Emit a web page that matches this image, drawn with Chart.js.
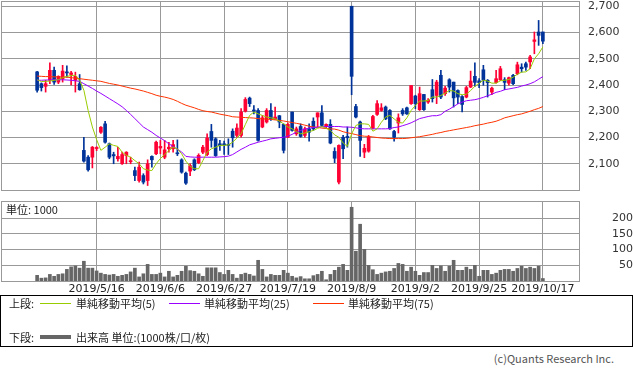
<!DOCTYPE html>
<html>
<head>
<meta charset="utf-8">
<script src="https://cdn.jsdelivr.net/npm/chart.js@4.4.1/dist/chart.umd.min.js"></script>
<style>
  html, body { margin: 0; padding: 0; background: #fff; }
  body { width: 633px; height: 375px; position: relative; overflow: hidden;
         font-family: "Noto Sans CJK JP", "DejaVu Sans", sans-serif; color: #222; }
  #priceBox { position: absolute; left: 0; top: 0; width: 633px; height: 192px; }
  #volBox { position: absolute; left: 0; top: 196px; width: 633px; height: 100px; }
  #unit { position: absolute; left: 6px; top: 202px; font-size: 11px; line-height: 14px; }
  #legend { position: absolute; left: 0; top: 295px; width: 633px; height: 52px;
            box-sizing: border-box; border: 1px solid #000; font-size: 11px; }
  #legend span { position: absolute; line-height: 14px; white-space: nowrap; }
  #legend .ln { position: absolute; display: block; }
  #copy { position: absolute; right: 19px; top: 351px; font-size: 11px; line-height: 14px; color: #555; }
</style>
</head>
<body>
<div id="priceBox"><canvas id="price" width="633" height="192"></canvas></div>
<div id="volBox"><canvas id="vol" width="633" height="100"></canvas></div>
<div id="unit">単位: 1000</div>
<div id="legend">
  <span style="left:8px;top:0">上段:</span>
  <div class="ln" style="left:39px;top:7px;width:31px;height:1px;background:#99cc00"></div>
  <span style="left:75px;top:0">単純移動平均(5)</span>
  <div class="ln" style="left:168px;top:7px;width:31px;height:1px;background:#9900ff"></div>
  <span style="left:203px;top:0">単純移動平均(25)</span>
  <div class="ln" style="left:312px;top:7px;width:31px;height:1px;background:#ff3300"></div>
  <span style="left:347px;top:0">単純移動平均(75)</span>
  <span style="left:8px;top:34px">下段:</span>
  <div class="ln" style="left:39px;top:39px;width:31px;height:4px;background:#666"></div>
  <span style="left:75px;top:34px">出来高 単位:(1000株/口/枚)</span>
</div>
<div id="copy">(c)Quants Research Inc.</div>

<script>
// 日付 (120営業日)
const dates = ['2019/4/18','2019/4/19','2019/4/22','2019/4/23','2019/4/24','2019/4/25','2019/4/26',
  '2019/5/7','2019/5/8','2019/5/9','2019/5/10','2019/5/13','2019/5/14','2019/5/15','2019/5/16','2019/5/17',
  '2019/5/20','2019/5/21','2019/5/22','2019/5/23','2019/5/24','2019/5/27','2019/5/28','2019/5/29','2019/5/30','2019/5/31',
  '2019/6/3','2019/6/4','2019/6/5','2019/6/6','2019/6/7','2019/6/10','2019/6/11','2019/6/12','2019/6/13','2019/6/14',
  '2019/6/17','2019/6/18','2019/6/19','2019/6/20','2019/6/21','2019/6/24','2019/6/25','2019/6/26','2019/6/27','2019/6/28',
  '2019/7/1','2019/7/2','2019/7/3','2019/7/4','2019/7/5','2019/7/8','2019/7/9','2019/7/10','2019/7/11','2019/7/12',
  '2019/7/16','2019/7/17','2019/7/18','2019/7/19','2019/7/22','2019/7/23','2019/7/24','2019/7/25','2019/7/26',
  '2019/7/29','2019/7/30','2019/7/31','2019/8/1','2019/8/2','2019/8/5','2019/8/6','2019/8/7','2019/8/8','2019/8/9',
  '2019/8/13','2019/8/14','2019/8/15','2019/8/16','2019/8/19','2019/8/20','2019/8/21','2019/8/22','2019/8/23',
  '2019/8/26','2019/8/27','2019/8/28','2019/8/29','2019/8/30','2019/9/2','2019/9/3','2019/9/4','2019/9/5','2019/9/6',
  '2019/9/9','2019/9/10','2019/9/11','2019/9/12','2019/9/13','2019/9/17','2019/9/18','2019/9/19','2019/9/20',
  '2019/9/24','2019/9/25','2019/9/26','2019/9/27','2019/9/30','2019/10/1','2019/10/2','2019/10/3','2019/10/4',
  '2019/10/7','2019/10/8','2019/10/9','2019/10/10','2019/10/11','2019/10/15','2019/10/16','2019/10/17'];

const tickLabels = ['2019/5/16','2019/6/6','2019/6/27','2019/7/19','2019/8/9','2019/9/2','2019/9/25','2019/10/17'];
const priceTicks = [2100, 2200, 2300, 2400, 2500, 2600, 2700];
const volTicks = [50, 100, 150, 200];

const opens = [
  2450,2405,2395,2418,2456,2411,2424,2450,2440,2418,
  2405,2151,2125,2125,2158,2220,2252,2176,2135,2119,
  2100,2131,2108,2074,2036,2055,2036,2128,2138,2160,
  2125,2157,2157,2140,2115,2064,2072,2115,2104,2144,
  2135,2223,2195,2176,2176,2174,2224,2208,2208,2300,
  2350,2303,2303,2240,2259,2303,2270,2283,2250,2201,
  2297,2214,2242,2208,2233,2262,2278,2294,2242,2250,
  2147,2030,2201,2204,2700,2318,2259,2144,2148,2236,
  2288,2303,2316,2303,2223,2255,2303,2313,2329,2358,
  2306,2364,2335,2382,2360,2437,2367,2420,2411,2379,
  2356,2354,2392,2433,2416,2458,2418,2373,2409,2420,
  2420,2407,2437,2443,2468,2481,2488,2566,2602,2602];
const highs = [
  2452,2408,2418,2484,2468,2435,2475,2473,2452,2449,
  2440,2201,2131,2166,2165,2242,2262,2179,2144,2163,
  2144,2146,2125,2087,2106,2062,2115,2130,2186,2189,
  2189,2182,2189,2191,2119,2068,2100,2119,2138,2170,
  2214,2250,2199,2189,2186,2195,2233,2252,2310,2352,
  2354,2322,2310,2284,2310,2329,2316,2284,2252,2255,
  2297,2240,2252,2240,2252,2275,2294,2322,2252,2268,
  2161,2172,2208,2240,2700,2326,2263,2174,2208,2284,
  2341,2329,2320,2306,2227,2290,2310,2316,2398,2361,
  2392,2364,2348,2421,2418,2456,2395,2424,2411,2382,
  2360,2395,2453,2484,2424,2475,2421,2392,2456,2471,
  2428,2430,2441,2487,2481,2487,2513,2602,2646,2602];
const lows = [
  2373,2377,2373,2405,2402,2405,2411,2430,2400,2373,
  2380,2106,2072,2084,2150,2216,2178,2119,2100,2110,
  2097,2100,2100,2036,2030,2023,2017,2087,2135,2138,
  2119,2144,2144,2131,2064,2021,2055,2074,2100,2138,
  2131,2163,2128,2151,2136,2135,2163,2201,2201,2297,
  2318,2290,2186,2237,2255,2265,2268,2237,2141,2199,
  2224,2208,2201,2201,2186,2227,2240,2242,2237,2176,
  2104,2023,2119,2163,2363,2275,2128,2123,2144,2233,
  2284,2300,2268,2231,2186,2217,2284,2288,2326,2310,
  2303,2303,2330,2335,2329,2348,2360,2373,2316,2329,
  2297,2351,2390,2395,2390,2399,2354,2363,2407,2417,
  2382,2399,2401,2439,2449,2456,2462,2519,2551,2557];
const closes = [
  2380,2390,2405,2456,2411,2433,2453,2446,2446,2433,
  2382,2110,2077,2163,2162,2239,2182,2125,2130,2128,
  2135,2144,2110,2055,2087,2030,2100,2115,2182,2166,
  2153,2163,2173,2138,2068,2026,2093,2077,2132,2163,
  2198,2189,2131,2169,2171,2170,2199,2236,2297,2345,
  2329,2301,2189,2275,2303,2271,2278,2259,2151,2250,
  2227,2233,2204,2233,2220,2233,2294,2246,2250,2179,
  2121,2170,2157,2199,2433,2278,2189,2159,2201,2280,
  2329,2313,2271,2233,2201,2275,2290,2290,2398,2329,
  2367,2306,2342,2348,2411,2354,2388,2392,2351,2354,
  2326,2390,2415,2410,2409,2418,2409,2388,2424,2462,
  2410,2428,2405,2477,2462,2468,2507,2572,2589,2567];

const ma5 = [
  2420,2413,2414,2415,2418,2420,2428,2433,2436,2437,
  2418,2380,2303,2240,2192,2151,2163,2176,2170,2166,
  2144,2132,2125,2112,2100,2081,2076,2074,2100,2120,
  2135,2150,2163,2157,2138,2110,2090,2081,2081,2112,
  2144,2157,2163,2170,2170,2172,2182,2198,2214,2250,
  2284,2297,2290,2284,2278,2275,2271,2262,2252,2240,
  2233,2222,2214,2217,2222,2227,2235,2242,2235,2227,
  2210,2201,2179,2166,2214,2246,2252,2252,2250,2224,
  2233,2258,2278,2284,2271,2258,2255,2275,2303,2322,
  2339,2339,2341,2354,2354,2360,2369,2379,2377,2367,
  2363,2365,2379,2395,2407,2418,2415,2407,2407,2416,
  2418,2421,2430,2441,2449,2450,2462,2500,2519,2545];
const ma25 = [
  2418,2418,2419,2419,2420,2420,2420,2419,2418,2416,
  2414,2405,2396,2387,2377,2368,2358,2348,2338,2328,
  2317,2303,2288,2272,2256,2240,2230,2220,2208,2198,
  2188,2176,2166,2155,2145,2128,2126,2125,2125,2125,
  2125,2125,2125,2126,2127,2129,2135,2145,2155,2163,
  2172,2177,2182,2186,2190,2195,2197,2199,2201,2205,
  2212,2220,2227,2232,2236,2238,2240,2241,2242,2242,
  2242,2242,2240,2240,2239,2237,2234,2233,2233,2233,
  2233,2233,2233,2234,2238,2240,2245,2250,2256,2264,
  2272,2276,2280,2283,2283,2287,2300,2308,2318,2328,
  2335,2340,2342,2344,2348,2353,2359,2365,2372,2376,
  2382,2385,2388,2391,2396,2400,2405,2412,2422,2432];
const ma75 = [
  2434,2433,2432,2432,2431,2431,2430,2430,2428,2426,
  2424,2422,2420,2418,2416,2414,2410,2406,2403,2400,
  2396,2392,2388,2385,2381,2377,2372,2367,2361,2357,
  2354,2350,2345,2338,2330,2323,2318,2313,2307,2302,
  2299,2297,2293,2289,2286,2283,2279,2278,2277,2276,
  2275,2274,2272,2271,2270,2269,2267,2265,2263,2260,
  2257,2254,2251,2247,2243,2240,2238,2236,2234,2233,
  2232,2228,2222,2218,2215,2211,2207,2205,2204,2202,
  2200,2198,2197,2196,2196,2196,2196,2197,2199,2201,
  2203,2206,2209,2212,2216,2219,2223,2226,2229,2232,
  2235,2238,2241,2245,2248,2251,2255,2258,2262,2268,
  2275,2279,2283,2287,2290,2295,2300,2306,2311,2318];

const volume = [
  18,9,10,21,15,21,23,37,45,48,
  41,63,41,41,32,25,21,19,21,15,
  18,21,29,41,13,23,53,21,21,25,
  13,31,13,18,31,47,33,31,23,15,
  42,42,42,27,21,34,21,9,21,25,
  21,16,66,37,13,21,18,18,34,25,
  15,10,14,7,7,17,21,31,4,21,
  34,44,53,34,235,95,181,101,50,36,
  21,25,29,31,40,56,53,31,44,31,
  18,27,27,50,40,48,31,47,66,34,
  34,44,37,50,15,34,34,21,25,34,
  37,37,31,40,47,40,44,40,47,8];

const UP = '#ff0033';
const DOWN = '#003399';
const GRID = '#999999';
const N_PAD = 8; // 左右の空き

Chart.defaults.font.family = 'DejaVu Sans';
Chart.defaults.color = '#333';

const pad = a => [...Array(N_PAD).fill(null), ...a, ...Array(N_PAD).fill(null)];
const labels = [...Array(N_PAD).fill(''), ...dates, ...Array(N_PAD).fill('')];
const tickIdx = tickLabels.map(l => labels.indexOf(l));
const candleColor = opens.map((o, i) => closes[i] >= o ? UP : DOWN);

// 枠線
const frame = {
  id: 'frame',
  beforeDatasetsDraw(chart) {
    const { ctx, chartArea: a } = chart;
    const l = Math.round(a.left), t = Math.round(a.top);
    const r = Math.round(a.right), b = Math.round(a.bottom);
    ctx.save();
    ctx.strokeStyle = GRID;
    ctx.lineWidth = 1;
    ctx.strokeRect(l + 0.5, t + 0.5, r - l, b - t);
    ctx.restore();
  }
};

// ラベルのはみ出し用の余白を消す
const noPad = s => { s.paddingTop = 0; s.paddingBottom = 0; s.paddingLeft = 0; s.paddingRight = 0; };
const xTicks = s => { s.ticks = tickIdx.map(i => ({ value: i })); };

function maLine(data, color) {
  return {
    type: 'line', data: pad(data), borderColor: color, borderWidth: 1,
    pointRadius: 0, fill: false, tension: 0, order: 0
  };
}

// 上段: ローソク足 + 移動平均
new Chart(document.getElementById('price'), {
  type: 'bar',
  data: {
    labels: labels,
    datasets: [
      maLine(ma5, '#99cc00'),
      maLine(ma25, '#9900ff'),
      maLine(ma75, '#ff3300'),
      {
        data: pad(opens.map((o, i) => [o, closes[i]])),
        backgroundColor: pad(candleColor),
        barThickness: 3, minBarLength: 1, grouped: false, order: 1
      },
      {
        data: pad(lows.map((l, i) => [l, highs[i]])),
        backgroundColor: pad(candleColor),
        barThickness: 1, grouped: false, order: 2
      }
    ]
  },
  options: {
    responsive: false, animation: false, events: [],
    layout: { padding: { left: 1, top: 1, right: 0, bottom: 0 } },
    plugins: { legend: { display: false }, tooltip: { enabled: false } },
    scales: {
      x: {
        afterBuildTicks: xTicks,
        afterFit: s => { s.height = 2; noPad(s); },
        grid: { color: GRID, drawTicks: false, offset: false },
        border: { display: false },
        ticks: { display: false, autoSkip: false }
      },
      y: {
        position: 'right', min: 2000, max: 2720,
        afterBuildTicks: s => { s.ticks = priceTicks.map(v => ({ value: v })); },
        afterFit: s => { s.width = 54; noPad(s); },
        grid: { color: GRID, drawTicks: false },
        border: { display: false },
        ticks: { padding: 9, color: '#333', font: { size: 11 },
                 callback: v => v.toLocaleString('en-US') }
      }
    }
  },
  plugins: [frame]
});

// 下段: 出来高
new Chart(document.getElementById('vol'), {
  type: 'bar',
  data: {
    labels: labels,
    datasets: [{ data: pad(volume), backgroundColor: '#666666', barThickness: 3 }]
  },
  options: {
    responsive: false, animation: false, events: [],
    layout: { padding: { left: 1, top: 5, right: 0, bottom: 0 } },
    plugins: { legend: { display: false }, tooltip: { enabled: false } },
    scales: {
      x: {
        afterBuildTicks: xTicks,
        afterFit: s => { s.height = 15; noPad(s); },
        grid: { color: GRID, drawTicks: false, offset: false },
        border: { display: false },
        ticks: { autoSkip: false, maxRotation: 0, padding: 2, color: '#222', font: { size: 11 } }
      },
      y: {
        position: 'right', min: 0, max: 255,
        afterBuildTicks: s => { s.ticks = volTicks.map(v => ({ value: v })); },
        afterFit: s => { s.width = 54; noPad(s); },
        grid: { color: GRID, drawTicks: false },
        border: { display: false },
        ticks: { padding: 8, crossAlign: 'far', color: '#333', font: { size: 11 } }
      }
    }
  },
  plugins: [frame]
});
</script>
</body>
</html>
